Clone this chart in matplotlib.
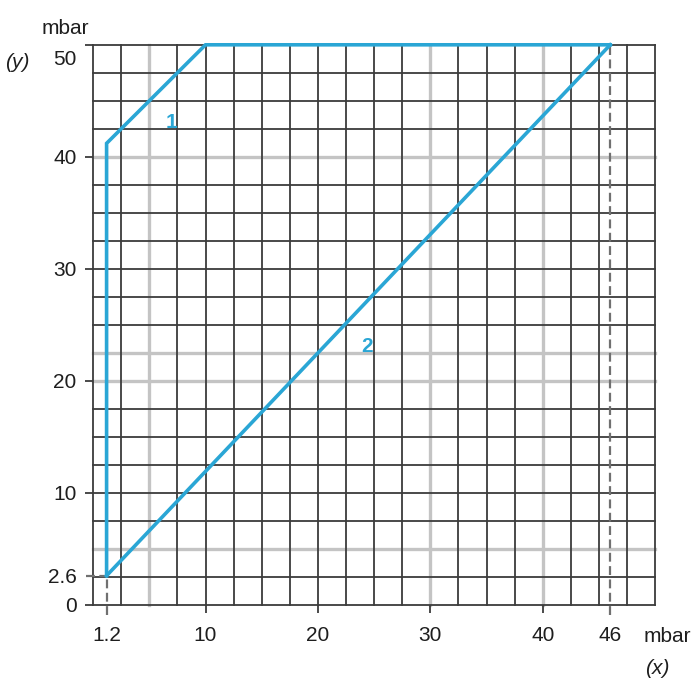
import numpy as np
import matplotlib.pyplot as plt
import matplotlib.transforms as mtransforms

plt.rcParams['font.family'] = ['Liberation Sans', 'DejaVu Sans']

# Curve data (mbar)
curve1_x = [1.2, 1.2, 10, 46]
curve1_y = [2.6, 41.2, 50, 50]
curve2_x = [1.2, 46]
curve2_y = [2.6, 50]

x_ticks = [1.2, 10, 20, 30, 40, 46]
x_labels = ['1.2', '10', '20', '30', '40', '46']
y_ticks = [0, 2.6, 10, 20, 30, 40, 50]
y_labels = ['0', '2.6', '10', '20', '30', '40', '50']

grid_step = 2.5
gray_x = [5, 30, 40]
gray_y = [5, 20, 22.5, 40]

blue = '#2aa6d5'
dark = '#3c3c3c'
light = '#c4c4c4'
txt = '#1e1e1e'

fig = plt.figure(figsize=(7, 7), dpi=100)
ax = fig.add_axes([0.133, 0.136, 0.803, 0.8])
ax.set_xlim(0, 50)
ax.set_ylim(0, 50)

# grid
for v in np.arange(0, 50.01, grid_step):
    c, lw = (light, 2.4) if v in gray_x else (dark, 1.3)
    ax.axvline(v, color=c, lw=lw, zorder=1 if v in gray_x else 2, clip_on=False)
    c, lw = (light, 2.4) if v in gray_y else (dark, 1.3)
    ax.axhline(v, color=c, lw=lw, zorder=1 if v in gray_y else 2, clip_on=False)

for s in ax.spines.values():
    s.set_visible(False)

# dashed guides
dash = dict(color='#707070', lw=1.6, ls=(0, (4, 2)), clip_on=False, zorder=3)
ax.plot([curve2_x[0], curve2_x[0]], [-0.9, curve2_y[0]], **dash)
ax.plot([curve2_x[-1], curve2_x[-1]], [-0.9, curve2_y[-1]], **dash)
ax.plot([-0.6, curve2_x[0]], [curve2_y[0], curve2_y[0]], **dash)

ax.plot(curve1_x, curve1_y, color=blue, lw=2.6, zorder=4, clip_on=False,
        solid_joinstyle='miter')
ax.plot(curve2_x, curve2_y, color=blue, lw=2.6, zorder=4, clip_on=False)

ax.text(7.0, 43.1, '1', color=blue, fontsize=15, fontweight='bold', ha='center', va='center')
ax.text(24.4, 23.1, '2', color=blue, fontsize=15, fontweight='bold', ha='center', va='center')

ax.set_xticks(x_ticks)
ax.set_xticklabels(x_labels)
ax.set_yticks(y_ticks)
ax.set_yticklabels(y_labels)
ax.tick_params(axis='both', direction='out', length=6, width=1.3, color=dark,
               labelsize=15, labelcolor=txt)
ax.tick_params(axis='x', pad=9)
ax.tick_params(axis='y', pad=6)
for t in ax.xaxis.get_major_ticks():
    if t.get_loc() in (1.2, 46):
        t.tick1line.set_visible(False)
for t in ax.yaxis.get_major_ticks():
    if t.get_loc() == 2.6:
        t.tick1line.set_visible(False)
top_lab = ax.get_yticklabels()[-1]
top_lab.set_transform(top_lab.get_transform() +
                      mtransforms.ScaledTranslation(0, -13 / 100, fig.dpi_scale_trans))

fig.text(65 / 700, 1 - 28 / 700, 'mbar', fontsize=15, color=txt, ha='center', va='center')
fig.text(17 / 700, 1 - 62 / 700, '(y)', fontsize=15, color=txt, style='italic',
         ha='center', va='center')
fig.text(667 / 700, 1 - 637 / 700, 'mbar', fontsize=15, color=txt, ha='center', va='center')
fig.text(657 / 700, 1 - 668 / 700, '(x)', fontsize=15, color=txt, style='italic',
         ha='center', va='center')

fig.savefig('out.png', dpi=100)
